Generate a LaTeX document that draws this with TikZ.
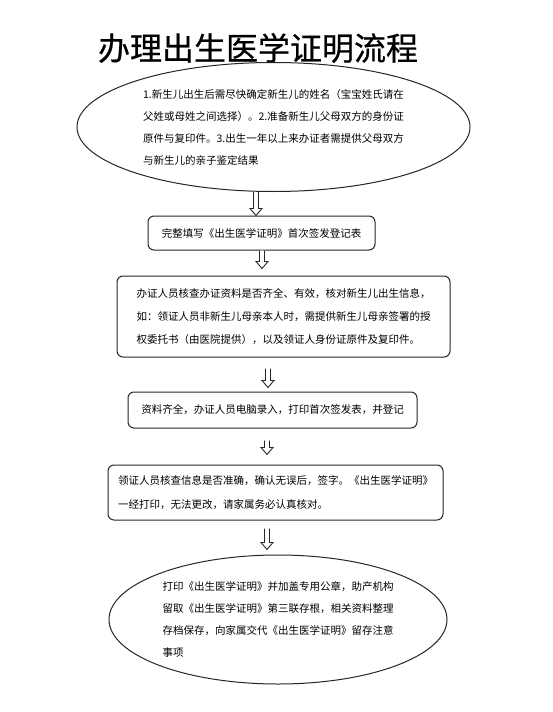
\documentclass[tikz,border=0pt]{standalone}
\usepackage{fontspec}
\setmainfont{Noto Sans CJK SC}
\usetikzlibrary{shapes.geometric,calc}
\tikzset{
  linecol/.style={draw=black!85, line width=1pt},
  bodytext/.style={font=\fontsize{10.5}{#1}\selectfont, align=left, text=black},
  ellipsebox/.style={linecol, ellipse, inner sep=0pt},
  roundbox/.style={linecol, rectangle, rounded corners=6pt, inner sep=0pt},
  arrowline/.style={draw=black!85, line width=0.9pt, fill=white, line join=miter}
}
\newcommand\blockarrow[2]{%
  \draw[arrowline] let \p1=#1, \p2=#2 in
    (\x1-2.5pt,\y1) -- (\x1-2.5pt,\y2+7pt) -- (\x1-6pt,\y2+7pt) -- (\x1,\y2)
    -- (\x1+6pt,\y2+7pt) -- (\x1+2.5pt,\y2+7pt) -- (\x1+2.5pt,\y1);}
\begin{document}
\begin{tikzpicture}[x=1pt,y=-1pt]
\useasboundingbox[fill=white] (0,0) rectangle (552,712);

\node (title) at (258,48) {\fontsize{32}{36}\selectfont\addfontfeatures{FakeBold=0.6} 办理出生医学证明流程};

\node[ellipsebox, minimum width=393pt, minimum height=129pt, bodytext=22pt] (e1) at (273.5,127)
{1.新生儿出生后需尽快确定新生儿的姓名（宝宝姓氏请在\\
父姓或母姓之间选择）。2.准备新生儿父母双方的身份证\\
原件与复印件。3.出生一年以上来办证者需提供父母双方\\
与新生儿的亲子鉴定结果};

\node[roundbox, minimum width=227pt, minimum height=34pt, bodytext=14pt] (b2) at (261.5,233)
{完整填写《出生医学证明》首次签发登记表};

\node[roundbox, minimum width=333pt, minimum height=81pt, bodytext=23pt] (b3) at (283.5,316.5)
{办证人员核查办证资料是否齐全、有效，核对新生儿出生信息，\\
如：领证人员非新生儿母亲本人时，需提供新生儿母亲签署的授\\
权委托书（由医院提供），以及领证人身份证原件及复印件。};

\node[roundbox, minimum width=289pt, minimum height=36pt, bodytext=14pt] (b4) at (272.5,410)
{资料齐全，办证人员电脑录入，打印首次签发表，并登记};

\node[roundbox, minimum width=335pt, minimum height=55pt, bodytext=24pt] (b5) at (275.5,492.5)
{领证人员核查信息是否准确，确认无误后，签字。《出生医学证明》\\
一经打印，无法更改，请家属务必认真核对。};

\node[ellipsebox, minimum width=338pt, minimum height=129pt, bodytext=22pt] (e6) at (278,619.5)
{打印《出生医学证明》并加盖专用公章，助产机构\\
留取《出生医学证明》第三联存根，相关资料整理\\
存档保存，向家属交代《出生医学证明》留存注意\\
事项};

\coordinate (a1) at (256,0);
\coordinate (a2) at (262,0);
\coordinate (a3) at (268,0);
\coordinate (a4) at (267,0);
\coordinate (a5) at (267,0);

\blockarrow{(a1 |- e1.south)}{(a1 |- b2.north)}
\blockarrow{(a2 |- b2.south)}{($(a2 |- b3.north)+(0,-7)$)}
\blockarrow{($(a3 |- b3.south)+(0,11)$)}{($(a3 |- b4.north)+(0,-4)$)}
\blockarrow{($(a4 |- b4.south)+(0,12)$)}{($(a4 |- b5.north)+(0,-10)$)}
\blockarrow{($(a5 |- b5.south)+(0,8)$)}{($(a5 |- e6.north)+(0,-5)$)}
\end{tikzpicture}
\end{document}
